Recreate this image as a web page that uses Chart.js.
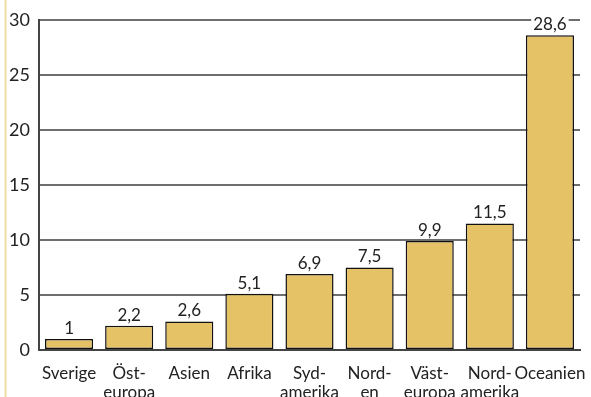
<!DOCTYPE html>
<html>
<head>
<meta charset="utf-8">
<script src="https://cdn.jsdelivr.net/npm/chart.js@4"></script>
<style>
html,body{margin:0;padding:0;background:#fff;}
#wrap{width:591px;height:397px;position:relative;}
</style>
</head>
<body>
<div id="wrap"><canvas id="c" width="591" height="397"></canvas></div>
<script>
const categories = [["Sverige"], ["Öst-", "europa"], ["Asien"], ["Afrika"], ["Syd-", "amerika"], ["Nord-", "en"], ["Väst-", "europa"], ["Nord-", "amerika"], ["Oceanien"]];
const values = [1, 2.2, 2.6, 5.1, 6.9, 7.5, 9.9, 11.5, 28.6];
const valueLabels = ["1", "2,2", "2,6", "5,1", "6,9", "7,5", "9,9", "11,5", "28,6"];
const yTicks = [0, 5, 10, 15, 20, 25, 30];

const FONT = "Lato, 'Open Sans', sans-serif";

// thin tan rule along the left edge of the page
const edgeRule = {
  id: 'edgeRule',
  beforeDraw(chart) {
    const ctx = chart.ctx;
    ctx.save();
    ctx.strokeStyle = '#F2DCA6';
    ctx.lineWidth = 2;
    ctx.beginPath();
    ctx.moveTo(5.5, 0);
    ctx.lineTo(5.5, chart.height);
    ctx.stroke();
    ctx.restore();
  }
};

// value printed above each bar
const barValues = {
  id: 'barValues',
  afterDatasetsDraw(chart) {
    const ctx = chart.ctx;
    const meta = chart.getDatasetMeta(0);
    ctx.save();
    ctx.font = "17px " + FONT;
    ctx.textAlign = 'center';
    ctx.textBaseline = 'bottom';
    meta.data.forEach((bar, i) => {
      ctx.fillStyle = '#fff';
      const w = ctx.measureText(valueLabels[i]).width;
      ctx.fillRect(bar.x - w / 2 - 2, bar.y - 20, w + 4, 17);
      ctx.fillStyle = '#222';
      ctx.fillText(valueLabels[i], bar.x, bar.y - 2);
    });
    ctx.restore();
  }
};

new Chart(document.getElementById('c'), {
  type: 'bar',
  data: {
    labels: categories,
    datasets: [{
      data: values,
      backgroundColor: '#E6C266',
      borderColor: '#111',
      borderWidth: 1.5,
      borderSkipped: false,
      barPercentage: 0.8,
      categoryPercentage: 1.0
    }]
  },
  options: {
    responsive: false,
    animation: false,
    devicePixelRatio: 1,
    layout: { padding: { top: 19, right: 11, left: 0, bottom: 0 } },
    plugins: { legend: { display: false }, tooltip: { enabled: false } },
    scales: {
      x: {
        grid: { display: false, drawTicks: false },
        border: { display: true, color: '#444', width: 2 },
        ticks: {
          color: '#222',
          font: { size: 17, family: FONT, lineHeight: 1.06 },
          padding: 15,
          maxRotation: 0,
          autoSkip: false
        },
        afterFit(axis) {
          axis.height = 47;
          axis.paddingLeft = 0;
          axis.paddingRight = 0;
        }
      },
      y: {
        min: 0,
        max: 30,
        afterBuildTicks(axis) { axis.ticks = yTicks.map(v => ({ value: v })); },
        grid: { color: '#6e6e6e', lineWidth: 2, drawTicks: false },
        border: { display: true, color: '#444', width: 2 },
        ticks: {
          color: '#222',
          font: { size: 18, family: FONT },
          padding: 9
        },
        afterFit(axis) { axis.width = 39; }
      }
    }
  },
  plugins: [edgeRule, barValues]
});
</script>
</body>
</html>
